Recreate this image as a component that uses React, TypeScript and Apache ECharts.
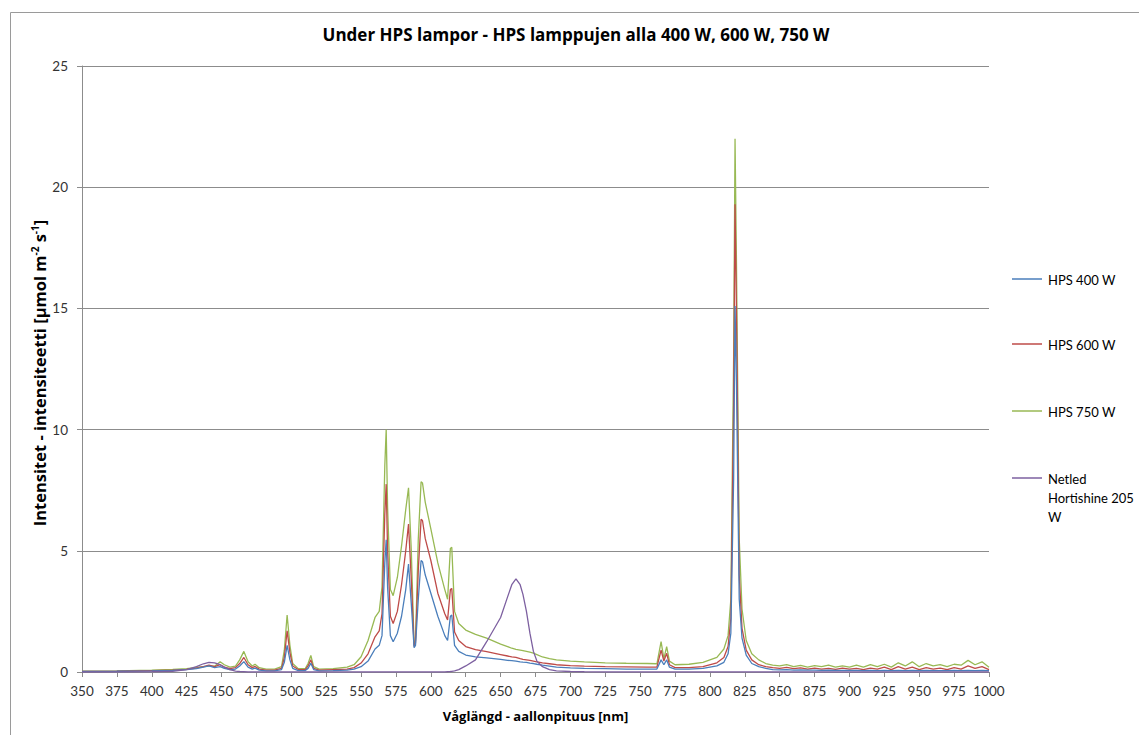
import React, { useEffect, useRef } from "react";
import * as echarts from "echarts";

const wavelengths = [
  350, 375, 400, 415, 425, 432, 437, 441, 445, 449, 452, 456, 460, 463, 466, 469, 472, 474, 477, 482, 488, 493, 495, 497, 499, 501, 505, 510, 512, 514, 516, 520, 530, 540, 545, 550, 555, 560, 563, 565, 567, 568, 569, 571, 573, 576, 579, 582, 584, 586, 588, 589, 591, 593, 594, 596, 600, 605, 610, 612, 614, 615, 617, 620, 625, 632, 640, 650, 655, 658, 661, 664, 666, 668.5, 671, 673.5, 676, 680, 685, 690, 700, 710, 725, 740, 755, 762, 765, 767, 769, 771, 775, 785, 795, 805, 810, 813, 815, 817, 818, 819, 821, 823, 826, 830, 835, 840,
  845, 850, 855, 860, 865, 870, 875, 880, 885, 890, 895, 900, 905, 910, 915, 920, 925, 930, 935, 940, 945, 950, 955, 960, 965, 970, 975, 980, 985, 990, 995, 1000,
];

const hps400 = [
  0.02, 0.03, 0.05, 0.07, 0.1, 0.14, 0.2, 0.25, 0.18, 0.22, 0.15, 0.1, 0.12, 0.25, 0.43, 0.2, 0.12, 0.16, 0.08, 0.05, 0.05, 0.1, 0.4, 1.1, 0.5, 0.15, 0.06, 0.06, 0.15, 0.36, 0.1, 0.05, 0.06, 0.08, 0.12, 0.22, 0.45, 0.95, 1.1, 1.5, 4.5, 5.45, 3.5, 1.5, 1.25, 1.6, 2.3, 3.4, 4.45, 2.8, 1.0, 1.1, 3.0, 4.6, 4.55, 4.0, 3.25, 2.3, 1.5, 1.3, 2.3, 2.35, 1.1, 0.85, 0.7, 0.62, 0.58, 0.52, 0.48, 0.47, 0.45, 0.42, 0.41, 0.4, 0.37, 0.35, 0.32, 0.28, 0.24, 0.2, 0.17, 0.15, 0.14, 0.12, 0.12, 0.12, 0.5, 0.3, 0.5, 0.2, 0.12, 0.12, 0.15, 0.25, 0.4, 0.75, 1.6, 8.0, 15.1, 12.0, 3.0, 1.4, 0.7, 0.35, 0.22, 0.15,
  0.1, 0.09, 0.1, 0.08, 0.09, 0.08, 0.08, 0.07, 0.08, 0.07, 0.07, 0.07, 0.07, 0.06, 0.07, 0.06, 0.07, 0.06, 0.07, 0.06, 0.07, 0.06, 0.07, 0.06, 0.06, 0.06, 0.07, 0.06, 0.07, 0.06, 0.07, 0.06,
];

const hps600 = [
  0.02, 0.03, 0.06, 0.08, 0.11, 0.16, 0.22, 0.28, 0.22, 0.3, 0.2, 0.14, 0.18, 0.35, 0.6, 0.3, 0.18, 0.23, 0.12, 0.08, 0.08, 0.15, 0.6, 1.7, 0.8, 0.25, 0.1, 0.1, 0.25, 0.5, 0.15, 0.08, 0.1, 0.12, 0.18, 0.37, 0.75, 1.45, 1.7, 2.4, 6.5, 7.75, 5.0, 2.3, 2.0, 2.5, 3.6, 5.0, 6.1, 3.8, 1.05, 1.2, 4.2, 6.3, 6.25, 5.5, 4.6, 3.25, 2.4, 2.15, 3.4, 3.45, 1.65, 1.3, 1.05, 0.92, 0.84, 0.72, 0.66, 0.62, 0.6, 0.55, 0.52, 0.5, 0.48, 0.45, 0.42, 0.38, 0.34, 0.3, 0.26, 0.24, 0.22, 0.21, 0.2, 0.2, 0.9, 0.45, 0.77, 0.3, 0.18, 0.18, 0.22, 0.38, 0.6, 1.05, 2.2, 11.0, 19.3, 15.0, 4.0, 1.8, 0.9, 0.5, 0.3, 0.22,
  0.18, 0.15, 0.19, 0.14, 0.17, 0.12, 0.16, 0.12, 0.15, 0.11, 0.16, 0.12, 0.15, 0.1, 0.16, 0.12, 0.2, 0.1, 0.22, 0.12, 0.2, 0.1, 0.18, 0.12, 0.16, 0.1, 0.18, 0.12, 0.25, 0.15, 0.22, 0.1,
];

const hps750 = [
  0.03, 0.05, 0.08, 0.11, 0.14, 0.19, 0.22, 0.24, 0.24, 0.42, 0.3, 0.2, 0.24, 0.5, 0.85, 0.42, 0.25, 0.32, 0.18, 0.12, 0.12, 0.22, 0.9, 2.35, 1.1, 0.35, 0.14, 0.14, 0.35, 0.68, 0.22, 0.12, 0.14, 0.2, 0.3, 0.63, 1.3, 2.25, 2.5, 3.5, 8.5, 10.0, 6.8, 3.4, 3.15, 3.9, 5.2, 6.7, 7.6, 5.0, 1.1, 1.3, 5.5, 7.85, 7.8, 7.0, 5.9, 4.5, 3.4, 3.0, 5.1, 5.15, 2.5, 2.0, 1.73, 1.55, 1.4, 1.15, 1.05, 0.98, 0.93, 0.9, 0.88, 0.85, 0.82, 0.78, 0.72, 0.62, 0.55, 0.5, 0.45, 0.42, 0.38, 0.36, 0.35, 0.34, 1.25, 0.55, 1.05, 0.45, 0.3, 0.32, 0.4, 0.6, 0.95, 1.5, 3.0, 13.0, 22.0, 17.0, 5.5, 2.6, 1.3, 0.75, 0.5, 0.35,
  0.28, 0.25, 0.3, 0.22, 0.27, 0.2, 0.26, 0.22, 0.28, 0.2, 0.25, 0.2, 0.28, 0.2, 0.3, 0.22, 0.32, 0.2, 0.38, 0.25, 0.42, 0.22, 0.35, 0.25, 0.3, 0.22, 0.32, 0.28, 0.48, 0.3, 0.42, 0.2,
];

const netled = [
  0, 0, 0.01, 0.03, 0.1, 0.22, 0.34, 0.4, 0.38, 0.3, 0.2, 0.1, 0.04, 0.02, 0.01, 0, 0, 0, 0, 0, 0, 0, 0, 0, 0, 0, 0, 0, 0, 0, 0, 0, 0, 0, 0, 0, 0, 0, 0, 0, 0, 0, 0, 0, 0, 0, 0, 0, 0, 0, 0, 0, 0, 0, 0, 0, 0, 0, 0, 0.01, 0.02, 0.03, 0.05, 0.1, 0.25, 0.5, 1.25, 2.25, 3.1, 3.6, 3.84, 3.6, 3.2, 2.5, 1.6, 0.85, 0.45, 0.22, 0.1, 0.05, 0.02, 0.01, 0, 0, 0, 0, 0, 0, 0, 0, 0, 0, 0, 0, 0, 0, 0, 0, 0, 0, 0, 0, 0, 0, 0, 0, 0,
  0, 0, 0, 0, 0, 0, 0, 0, 0, 0, 0, 0, 0, 0, 0, 0, 0, 0, 0, 0, 0, 0, 0, 0, 0, 0, 0, 0, 0, 0, 0, 0,
];

const seriesNames = ["HPS 400 W", "HPS 600 W", "HPS 750 W", "Netled Hortishine 205 W"];
const legendLabels = ["HPS 400 W", "HPS 600 W", "HPS 750 W", "Netled\nHortishine 205\nW"];
const seriesColors = ["#4A7EBB", "#BE4B48", "#98B954", "#7D60A0"];
const seriesValues = [hps400, hps600, hps750, netled];

const FONT = "Lato, 'Open Sans', sans-serif";
const BOLD_FONT = "'Open Sans', Lato, sans-serif";

export default function App() {
  const ref = useRef<HTMLDivElement>(null);
  useEffect(() => {
    if (!ref.current) return;
    const chart = echarts.init(ref.current, null, { renderer: "svg" });
    const legendY = [279, 344, 411, 478];
    const graphic: any[] = [
      {
        type: "rect",
        shape: { x: 10.5, y: 12.5, width: 1300, height: 900 },
        style: { fill: "none", stroke: "#9a9a9a", lineWidth: 1 },
        silent: true,
      },
      {
        type: "text",
        x: 39,
        y: 373,
        rotation: Math.PI / 2,
        style: {
          text: "{b|Intensitet - intensiteetti [µmol m}{s|-2}{b| s}{s|-1}{b|]}",
          align: "center",
          verticalAlign: "middle",
          rich: {
            b: { fontFamily: BOLD_FONT, fontWeight: "bold", fontSize: 16.5, fill: "#000" },
            s: { fontFamily: BOLD_FONT, fontWeight: "bold", fontSize: 10, fill: "#000", verticalAlign: "top", padding: [0, 0, 8, 0] },
          },
        },
      },
    ];
    legendLabels.forEach((lbl, i) => {
      graphic.push({
        type: "line",
        shape: { x1: 1012, y1: legendY[i], x2: 1042, y2: legendY[i] },
        style: { stroke: seriesColors[i], lineWidth: 1.5 },
      });
      graphic.push({
        type: "text",
        x: 1048,
        y: legendY[i] - 9,
        style: {
          text: lbl,
          fontFamily: FONT,
          fontSize: 13,
          fill: "#000",
          lineHeight: 19,
          verticalAlign: "top",
          align: "left",
        },
      });
    });

    chart.setOption({
      animation: false,
      backgroundColor: "#fff",
      title: {
        text: "Under HPS lampor - HPS lamppujen alla 400 W, 600 W, 750 W",
        left: 571,
        top: 21,
        textAlign: "center",
        textStyle: { fontFamily: BOLD_FONT, fontWeight: "bold", fontSize: 17, color: "#000" },
      },
      grid: { left: 82, right: 150, top: 66, bottom: 63, containLabel: false },
      xAxis: {
        type: "value",
        min: 350,
        max: 1000,
        interval: 25,
        name: "Våglängd - aallonpituus [nm]",
        nameLocation: "middle",
        nameGap: 37,
        nameTextStyle: { fontFamily: BOLD_FONT, fontWeight: "bold", fontSize: 13, color: "#000" },
        axisLine: { show: true, lineStyle: { color: "#8c8c8c", width: 1 } },
        axisTick: { show: true, length: 5, inside: false, lineStyle: { color: "#8c8c8c" } },
        axisLabel: { fontFamily: FONT, fontSize: 13.5, color: "#333", margin: 12, formatter: (v: number) => String(v) },
        splitLine: { show: false },
      },
      yAxis: {
        type: "value",
        min: 0,
        max: 25,
        interval: 5,
        axisLine: { show: true, lineStyle: { color: "#8c8c8c", width: 1 } },
        axisTick: { show: true, length: 5, inside: false, lineStyle: { color: "#8c8c8c" } },
        axisLabel: { fontFamily: FONT, fontSize: 13.5, color: "#333", margin: 14 },
        splitLine: { show: true, lineStyle: { color: "#8c8c8c", width: 1 } },
      },
      series: seriesNames.map((name, i) => ({
        name,
        type: "line",
        showSymbol: false,
        symbol: "none",
        z: i === 3 ? 5 : 4 - i,
        lineStyle: { color: seriesColors[i], width: 1.3 },
        itemStyle: { color: seriesColors[i] },
        data: wavelengths.map((w, k) => [w, seriesValues[i][k]]),
      })),
      graphic,
    });
    return () => chart.dispose();
  }, []);
  return <div ref={ref} style={{ position: "fixed", left: 0, top: 0, width: 1139, height: 735 }} />;
}
